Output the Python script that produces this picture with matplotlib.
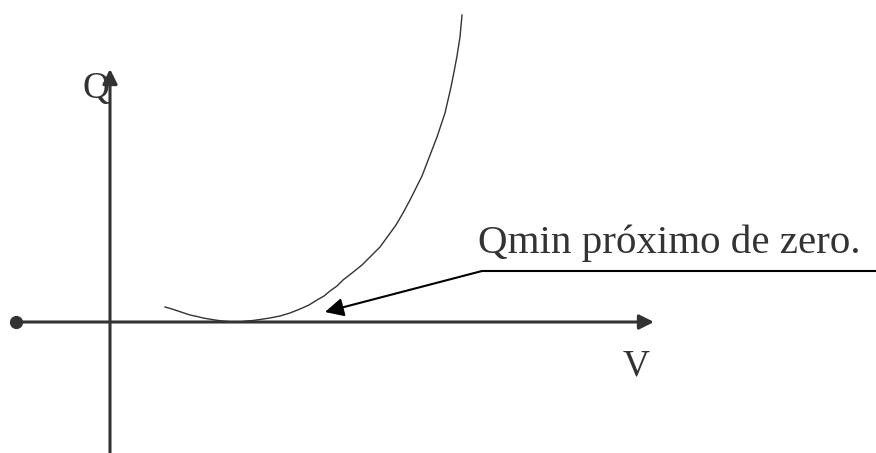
import matplotlib
matplotlib.use('Agg')
import matplotlib.pyplot as plt

# curve Q(V) (origin at the axes crossing)
curve_v = [55, 62, 68, 74, 80, 87, 93, 99, 105, 110, 115, 120, 125, 131, 137, 143, 150, 160, 170,
           180, 190, 199, 207, 214, 220, 227, 233, 242, 252, 261, 270, 278, 286, 293, 300, 306,
           312, 317, 322, 327, 331, 335, 338, 341, 344, 347, 350, 352]
curve_q = [15, 13, 11, 9, 7, 5.5, 4, 3, 2, 1.3, 0.8, 0.3, 0, 0.3, 1, 1.5, 2.5, 4, 6,
           9, 13, 17, 22, 26, 31, 36, 42, 49, 57, 66, 75, 86, 97, 109, 122, 134,
           146, 159, 172, 185, 197, 209, 222, 235, 250, 266, 285, 307]

# axes extents
h_axis_v = [-94, 544]
v_axis_q = [-131, 253]

# annotation leader
leader_v = [372, 766]
leader_q = 51
arrow_tip = (215, 10)

ink = '#333333'
plt.rcParams['font.family'] = ['Liberation Serif', 'DejaVu Serif']

fig = plt.figure(figsize=(8.76, 4.53), dpi=100)
ax = fig.add_axes([0, 0, 1, 1])
ax.set_xlim(-110, 766)
ax.set_ylim(-131, 322)
ax.axis('off')

# horizontal axis with dot and arrow
ax.annotate('', xy=(h_axis_v[1], 0), xytext=(h_axis_v[0], 0),
            arrowprops=dict(arrowstyle='-|>', color=ink, lw=2.2, mutation_scale=22, shrinkA=0, shrinkB=0))
ax.plot([h_axis_v[0]], [0], 'o', color=ink, markersize=8.5)

# vertical axis
ax.annotate('', xy=(0, v_axis_q[1]), xytext=(0, v_axis_q[0]),
            arrowprops=dict(arrowstyle='-|>', color=ink, lw=2.2, mutation_scale=22, shrinkA=0, shrinkB=0))

# curve
ax.plot(curve_v, curve_q, color=ink, lw=1.0)

# leader line + arrow
ax.plot(leader_v, [leader_q, leader_q], color='black', lw=1.5)
ax.annotate('', xy=arrow_tip, xytext=(leader_v[0], leader_q),
            arrowprops=dict(arrowstyle='-|>', color='black', lw=1.5, mutation_scale=28, shrinkA=0, shrinkB=0))

ax.text(-28, 224, 'Q', fontsize=27, color=ink, ha='left', va='baseline')
ax.text(513, -53, 'V', fontsize=27, color=ink, ha='left', va='baseline')
ax.text(368, 69, 'Qmin próximo de zero.', fontsize=29.5, color=ink, ha='left', va='baseline')

fig.savefig('out.png', dpi=100)
